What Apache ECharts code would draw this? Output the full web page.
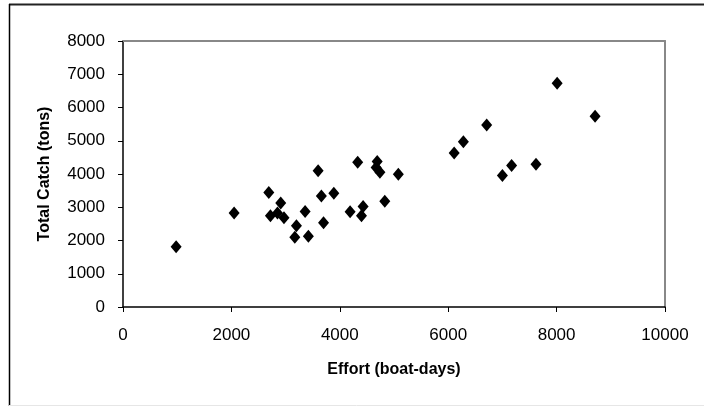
<!DOCTYPE html>
<html>
<head>
<meta charset="utf-8">
<script src="https://cdn.jsdelivr.net/npm/echarts@6/dist/echarts.min.js"></script>
<style>html,body{margin:0;padding:0;background:#fff}#c{width:704px;height:406px}</style>
</head>
<body>
<div id="c"></div>
<script>
var effort = [980, 2050, 2690, 2720, 2850, 2970, 2910, 3200, 3170, 3360, 3420, 3600, 3660, 3700, 3890, 4190, 4330, 4400, 4430, 4690, 4670, 4740, 4830, 5080, 6110, 6280, 7000, 7170, 7620, 6710, 8010, 8710];
var catchTons = [1815, 2825, 3440, 2745, 2825, 2685, 3130, 2445, 2100, 2875, 2130, 4095, 3340, 2535, 3420, 2865, 4355, 2745, 3025, 4375, 4195, 4055, 3180, 3990, 4630, 4970, 3955, 4255, 4295, 5470, 6730, 5740];
var xTitle = 'Effort (boat-days)';
var yTitle = 'Total Catch (tons)';

var pts = effort.map(function(v, i){ return [v, catchTons[i]]; });
var font = '"Liberation Sans", Arial, sans-serif';
var plain = function(v){ return String(v); };
var chart = echarts.init(document.getElementById('c'), null, {renderer:'canvas'});
chart.setOption({
  backgroundColor: '#fff',
  animation: false,
  grid: {left: 123, right: 39, top: 41, bottom: 99, show: false},
  xAxis: [{
    type: 'value', min: 0, max: 10000, interval: 2000, position: 'bottom',
    name: xTitle, nameLocation: 'middle', nameGap: 55,
    nameTextStyle: {fontFamily: font, fontSize: 16, fontWeight: 'bold', color: '#000'},
    axisLine: {show: true, onZero: false, lineStyle: {color: '#000', width: 1.5}},
    axisTick: {show: true, inside: false, length: 5, lineStyle: {color: '#000', width: 1}},
    axisLabel: {margin: 20, fontFamily: font, fontSize: 17, color: '#000', formatter: plain},
    splitLine: {show: false}
  }, {
    type: 'value', min: 0, max: 10000, interval: 2000, position: 'top',
    axisLine: {show: true, onZero: false, lineStyle: {color: '#888', width: 2}},
    axisTick: {show: false}, axisLabel: {show: false}, splitLine: {show: false}
  }],
  yAxis: [{
    type: 'value', min: 0, max: 8000, interval: 1000, position: 'left',
    name: yTitle, nameLocation: 'middle', nameGap: 70, nameRotate: 90,
    nameTextStyle: {fontFamily: font, fontSize: 16, fontWeight: 'bold', color: '#000'},
    axisLine: {show: true, onZero: false, lineStyle: {color: '#000', width: 1.5}},
    axisTick: {show: true, inside: false, length: 5, lineStyle: {color: '#000', width: 1}},
    axisLabel: {margin: 18, fontFamily: font, fontSize: 17, color: '#000', formatter: plain},
    splitLine: {show: false}
  }, {
    type: 'value', min: 0, max: 8000, interval: 1000, position: 'right',
    axisLine: {show: true, onZero: false, lineStyle: {color: '#888', width: 2}},
    axisTick: {show: false}, axisLabel: {show: false}, splitLine: {show: false}
  }],
  graphic: [
    {type: 'line', shape: {x1: 9, y1: 4.5, x2: 704, y2: 4.5}, style: {stroke: '#222', lineWidth: 2}, silent: true},
    {type: 'line', shape: {x1: 9.5, y1: 4, x2: 9.5, y2: 406}, style: {stroke: '#000', lineWidth: 1.5}, silent: true},
    {type: 'line', shape: {x1: 9, y1: 405.5, x2: 704, y2: 405.5}, style: {stroke: '#e6e6e6', lineWidth: 1}, silent: true}
  ],
  series: [{
    type: 'scatter',
    xAxisIndex: 0, yAxisIndex: 0,
    data: pts,
    symbol: 'diamond',
    symbolSize: [11, 13],
    itemStyle: {color: '#000', opacity: 1}
  }]
});
</script>
</body>
</html>
